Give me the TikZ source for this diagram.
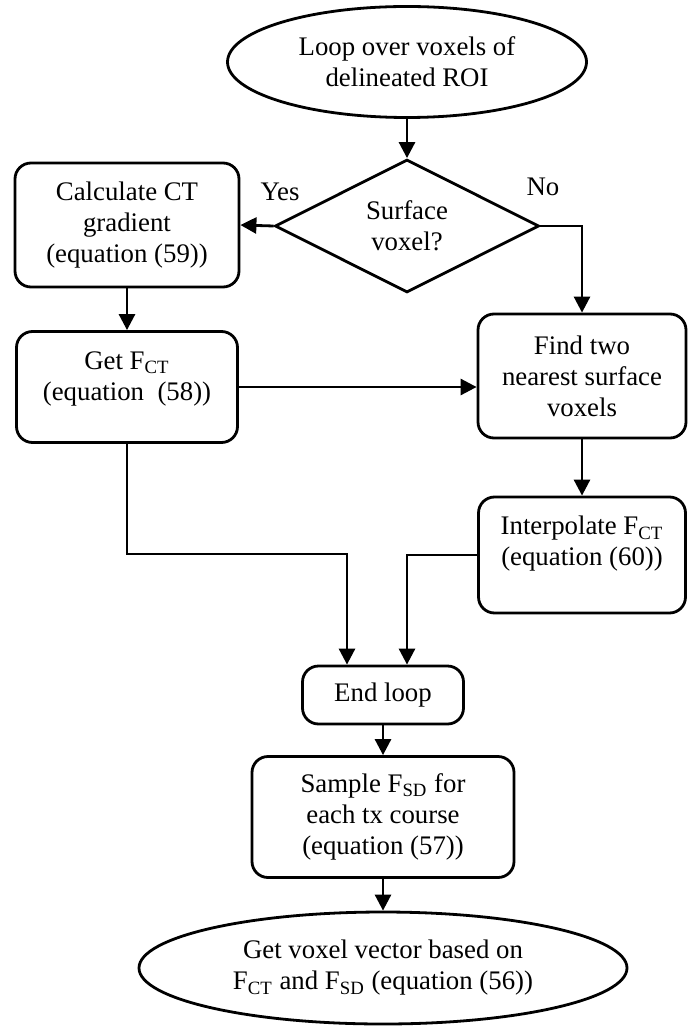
\documentclass[tikz,border=0pt]{standalone}
\usepackage{fontspec}
\setmainfont{Liberation Serif}
\usetikzlibrary{shapes.geometric,arrows.meta}

\begin{document}
\begin{tikzpicture}[x=0.5pt, y=-0.5pt, line width=1.4pt,
    every node/.style={font=\fontsize{13.4pt}{15.5pt}\selectfont, align=center},
    term/.style={ellipse, draw, inner sep=1pt},
    stepbox/.style={rectangle, draw, rounded corners=8pt, inner sep=2pt},
    query/.style={diamond, draw, aspect=2, inner sep=0pt},
    arr/.style={-{Triangle[length=8pt,width=8pt]}}]
    \useasboundingbox (0,0) rectangle (687,1026);

    % Start of the loop
    \node[term, minimum width=179.5pt, minimum height=55.5pt] (loop) at (407,62) {Loop over voxels of\\delineated ROI};
    \node[query, minimum width=132pt, minimum height=66.5pt] (surf) at (407,226) {Surface\\voxel?};
    \node (yes) at (280,192) {Yes};
    \node (no) at (543,187) {No};

    % Surface voxels
    \node[stepbox, minimum width=112pt, minimum height=62pt] (calc) at (127,225) {Calculate CT\\gradient\\(equation (59))};
    \node[stepbox, minimum width=110.5pt, minimum height=55.5pt, text depth=11pt] (get) at (127,387) {Get F\textsubscript{CT}\\(equation\ \ (58))};

    % Inner voxels
    \node[stepbox, minimum width=104pt, minimum height=62pt] (find) at (582,376) {Find two\\nearest surface\\voxels};
    \node[stepbox, minimum width=103.5pt, minimum height=58pt, text depth=14pt] (interp) at (582,555) {Interpolate F\textsubscript{CT}\\(equation (60))};

    % End
    \node[stepbox, minimum width=80.5pt, minimum height=29pt] (endl) at (383,695) {End loop};
    \node[stepbox, minimum width=131pt, minimum height=60.5pt] (samp) at (383,817) {Sample F\textsubscript{SD} for\\each tx course\\(equation (57))};
    \node[term, minimum width=244pt, minimum height=56pt] (vec) at (383,968) {Get voxel vector based on\\F\textsubscript{CT} and F\textsubscript{SD} (equation (56))};

    \draw[arr] (loop) -- (surf);
    \draw[arr] (surf.west) -- (calc.east);
    \draw[arr] (surf.east) -| (find.north);
    \draw[arr] (calc) -- (get);
    \draw[arr] (get.east) -- (get.east -| find.west);
    \draw[arr] (find) -- (interp);
    \draw[arr] (get.south) -- ++(0,110) -| ([xshift=-18pt]endl.north);
    \draw[arr] (interp.west) -| ([xshift=12pt]endl.north);
    \draw[arr] (endl) -- (samp);
    \draw[arr] (samp) -- (vec);
\end{tikzpicture}
\end{document}
